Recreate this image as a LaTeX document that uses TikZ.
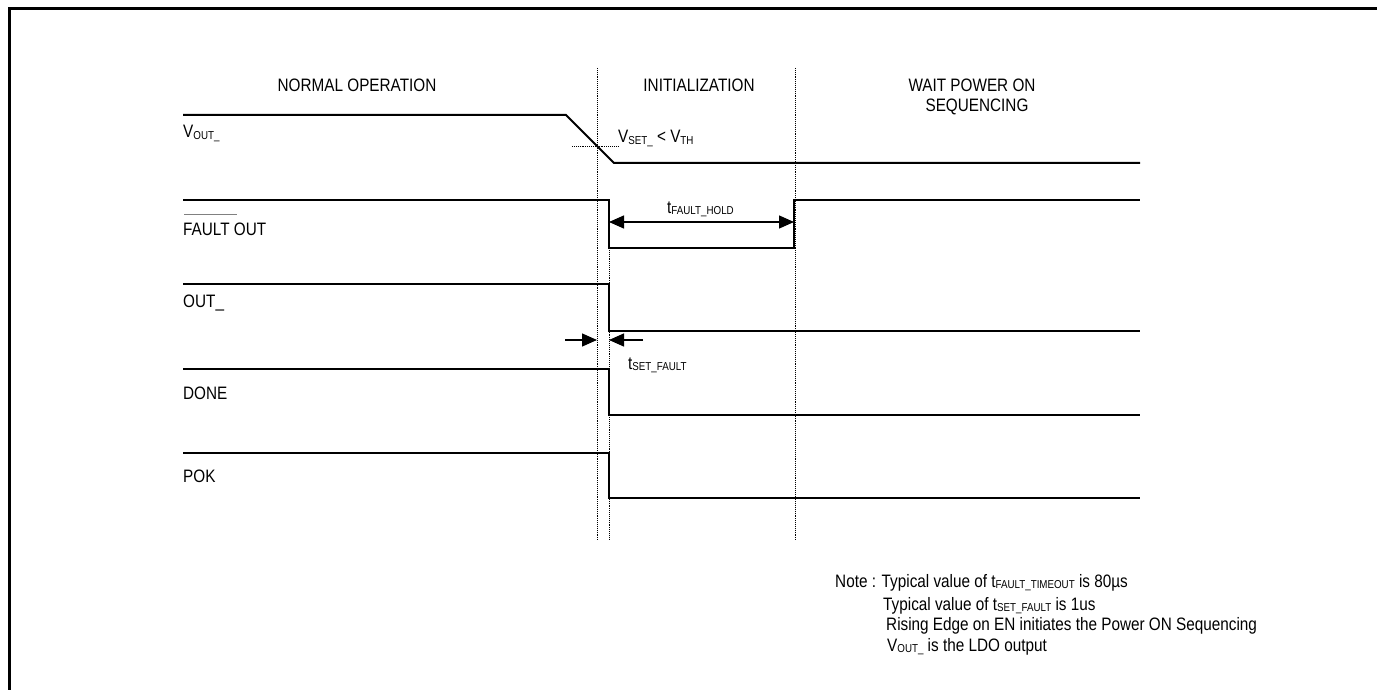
\documentclass[tikz,border=0pt]{standalone}
\usepackage{fontspec}
\setmainfont{Liberation Sans}[FakeStretch=0.85]
\usetikzlibrary{arrows.meta}
\newcommand{\sbs}[1]{\raisebox{-1.3pt}{\fontsize{11.5}{12}\selectfont #1}}
\tikzset{bigtri/.tip={Triangle[length=15pt,width=13pt]}}
\begin{document}
\begin{tikzpicture}[x=1pt,y=-1pt,
  sig/.style={line width=2pt, line join=miter},
  guide/.style={densely dotted, line width=0.9pt},
  lbl/.style={font=\fontsize{18}{21}\selectfont, inner sep=0pt, anchor=base west},
  hdr/.style={font=\fontsize{18}{21}\selectfont, inner sep=0pt, anchor=base},
  dimline/.style={line width=1.3pt}]
\useasboundingbox (0,0) rectangle (1377,690);
% frame
\draw[line width=3pt] (9,720) -- (9,9) -- (1400,9);

% headers
\node[hdr] (h1) at (357,92) {NORMAL OPERATION};
\node[hdr] (h2) at (699,92) {INITIALIZATION};
\node[hdr] (h3) at (972,92) {WAIT POWER ON};
\node[hdr] (h4) at (977,112) {SEQUENCING};

% guide lines
\draw[guide] (597,68) -- (597,540);
\draw[guide] (609,248) -- (609,540);
\draw[guide] (795,68) -- (795,540);
\draw[guide] (572,146) -- (619,146);

% VOUT_
\draw[sig] (183,115) -- (566,115) -- (614,163) -- (1140,163);
\node[lbl] (lv) at (183,138) {V\sbs{OUT\_}};
\node[lbl] (lvs) at (618,143) {V\sbs{SET\_} < V\sbs{TH}};

% FAULT OUT
\draw[sig] (183,200) -- (609,200) -- (609,248) -- (794,248) -- (794,200) -- (1140,200);
\node[lbl] (lf) at (183,235) {FAULT OUT};
\draw[gray, line width=0.8pt] (184,214) -- (237,214);
\coordinate (fa) at (609,222);
\coordinate (fb) at (794,222);
\draw[dimline, {bigtri}-{bigtri}] (fa) -- (fb);
\node[lbl] (lfh) at (667,213) {t\sbs{FAULT\_HOLD}};

% OUT_
\draw[sig] (183,284) -- (609,284) -- (609,331) -- (1140,331);
\node[lbl] (lo) at (183,307) {OUT\_};
\coordinate (sa0) at (565,340);
\coordinate (sa1) at (597,340);
\coordinate (sb0) at (643,340);
\coordinate (sb1) at (609,340);
\draw[dimline, -{bigtri}] (sa0) -- (sa1);
\draw[dimline, -{bigtri}] (sb0) -- (sb1);
\node[lbl] (lsf) at (628,369) {t\sbs{SET\_FAULT}};

% DONE
\draw[sig] (183,369) -- (609,369) -- (609,415) -- (1140,415);
\node[lbl] (ld) at (183,399) {DONE};

% POK
\draw[sig] (183,453) -- (609,453) -- (609,498) -- (1140,498);
\node[lbl] (lp) at (183,482) {POK};

% notes
\node[lbl] (n1) at (835,587) {Note : Typical value of t\sbs{FAULT\_TIMEOUT} is 80µs};
\node[lbl] (n2) at (883,610) {Typical value of t\sbs{SET\_FAULT} is 1us};
\node[lbl] (n3) at (886,630) {Rising Edge on EN initiates the Power ON Sequencing};
\node[lbl] (n4) at (887,651) {V\sbs{OUT\_} is the LDO output};
\end{tikzpicture}
\end{document}
